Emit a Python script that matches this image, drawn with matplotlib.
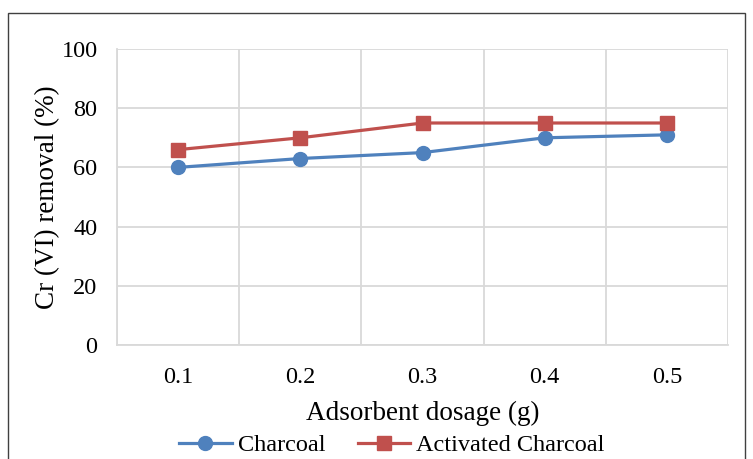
import matplotlib.pyplot as plt
from matplotlib.patches import Rectangle

plt.rcParams['font.family'] = ['Liberation Serif', 'DejaVu Serif']

dosage = ['0.1', '0.2', '0.3', '0.4', '0.5']
charcoal = [60, 63, 65, 70, 71]
activated = [66, 70, 75, 75, 75]

fig = plt.figure(figsize=(7.53, 4.59), dpi=100)
ax = fig.add_axes([117 / 753, 1 - 345 / 459, (728 - 117) / 753, (345 - 49) / 459])

xs = [i + 0.5 for i in range(len(dosage))]
ax.plot(xs, charcoal, color='#4F81BD', lw=2.3, marker='o', ms=10, label='Charcoal')
ax.plot(xs, activated, color='#C0504D', lw=2.3, marker='s', ms=9.5, label='Activated Charcoal')

ax.set_xlim(0, 5)
ax.set_ylim(0, 100)
ax.set_yticks(range(0, 101, 20))
ax.set_xticks(range(0, 6), minor=False)
ax.set_xticklabels([])
ax.set_xticks(xs, minor=True)
ax.set_xticklabels(dosage, minor=True)
ax.tick_params(which='both', length=0, labelsize=17.5, colors='#000000')
ax.tick_params(axis='x', which='minor', pad=16)
ax.tick_params(axis='y', pad=14)
ax.grid(True, which='major', color='#D9D9D9', lw=1.3)
ax.set_axisbelow(True)
for s in ['top', 'right']:
    ax.spines[s].set_visible(False)
ax.spines['left'].set_color('#D9D9D9')
ax.spines['bottom'].set_color('#D9D9D9')
ax.spines['left'].set_linewidth(1.3)
ax.spines['bottom'].set_linewidth(1.3)

ax.set_xlabel('Adsorbent dosage (g)', fontsize=19.5, labelpad=9)
ax.set_ylabel('Cr (VI) removal (%)', fontsize=19.5, labelpad=1)

ax.legend(loc='center', bbox_to_anchor=((392 - 117) / 611, (345 - 445) / 296), ncol=2,
          frameon=False, fontsize=17.5, handlelength=2.15, columnspacing=1.35,
          handletextpad=0.25, borderaxespad=0, borderpad=0)

fig.patches.append(Rectangle((8 / 753, -0.05), (745 - 8) / 753, 1.05 - 13 / 459,
                             transform=fig.transFigure, fill=False, ec='#404040', lw=1))

fig.savefig('out.png', dpi=100)
